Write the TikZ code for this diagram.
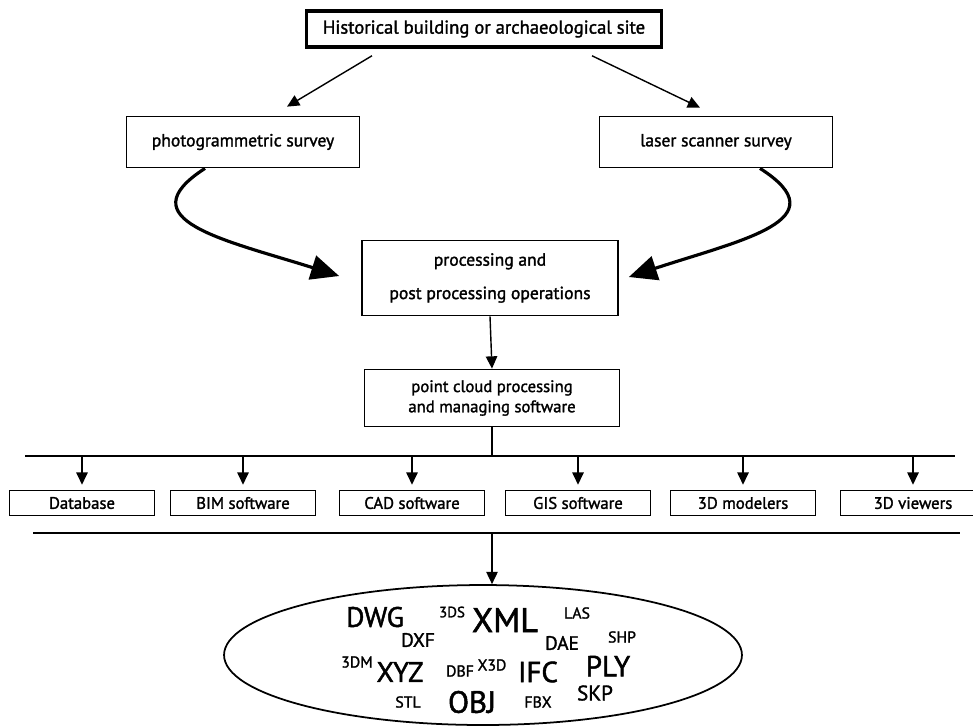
\documentclass[tikz,border=0pt]{standalone}
\usepackage{fontspec}
\setmainfont{PT Sans}[FakeBold=1.6]
\usepackage{tikz}
\usetikzlibrary{arrows.meta,shapes,positioning,calc}

\tikzset{
  box/.style={draw,line width=1pt,minimum width=4.66cm,minimum height=1.02cm,
    font=\fontsize{10}{12}\selectfont},
  toolbox/.style={draw,line width=0.6pt,minimum width=2.9cm,minimum height=0.5cm,
    inner sep=1pt,font=\fontsize{9.5}{11}\selectfont},
  arr/.style={line width=0.8pt,-{Triangle[length=7pt,width=6.5pt]}},
  bigarr/.style={line width=1.8pt,-{Triangle[length=16pt,width=14pt]}},
  bus/.style={line width=1pt},
  fmt/.style={inner sep=0pt,font=\fontsize{#1}{#1}\selectfont},
}

\begin{document}
\begin{tikzpicture}[x=0.02cm,y=-0.02cm]
\useasboundingbox (0,0) rectangle (973,725);
% survey and processing chain
\node[draw,line width=2pt,minimum width=7.1cm,minimum height=0.72cm,
  font=\fontsize{10.6}{12}\selectfont] (site) at (484,29) {Historical building or archaeological site};
\node[box] (photo) at (243,142) {photogrammetric survey};
\node[box] (laser) at (716,142) {laser scanner survey};
\node[box,minimum width=5.12cm,minimum height=1.5cm,align=center] (proc) at (490,278)
  {processing and\\[7pt]post processing operations};
\node[box,minimum width=5.1cm,minimum height=1.14cm,align=center,
  font=\fontsize{9.5}{11.5}\selectfont] (cloud) at (492,398)
  {point cloud processing\\and managing software};

\draw[arr] ($(site.south)+(-112,7)$) -- ($(photo.north)+(44,-9)$);
\draw[arr] ($(site.south)+(108,7)$) -- ($(laser.north)+(-16,-8)$);
\draw[bigarr] ($(photo.south)+(-38,0)$) .. controls (125,220) and (225,240) .. ($(proc.west)+(-22,-2)$);
\draw[bigarr] ($(laser.south)+(44,0)$) .. controls (841,220) and (741,240) .. ($(proc.east)+(10,-1)$);
\draw[arr] (proc.south) -- (cloud.north);

% software
\coordinate (bus1l) at (25,456);
\coordinate (bus1r) at (955,456);
\coordinate (bus2l) at (33,533);
\coordinate (bus2r) at (960,533);
\draw[bus] (bus1l) -- (bus1r);
\draw[bus] (bus2l) -- (bus2r);
\draw[bus] (cloud.south) -- (cloud.south |- bus1l);

\node[toolbox] (db) at (82,503) {Database};
\node[toolbox] (bim) at (243,503) {BIM software};
\node[toolbox] (cad) at (412,503) {CAD software};
\node[toolbox] (gis) at (578,503) {GIS software};
\node[toolbox] (mod) at (743,503) {3D modelers};
\node[toolbox] (view) at (913,503) {3D viewers};
\foreach \n in {db,bim,cad,gis,mod,view}
  \draw[arr,shorten >=3pt] (\n.north |- bus1l) -- (\n.north);

% exchange formats
\node[draw,ellipse,line width=1pt,minimum width=10.36cm,minimum height=2.8cm] (formats) at (483,655) {};
\draw[arr] (cloud.south |- bus2l) -- (cloud.south |- formats.north);

\node[fmt=16] (dwg) at (375,617) {DWG};
\node[fmt=8.5] (tds) at (452,612) {3DS};
\node[fmt=19.5] (xml) at (505,620) {XML};
\node[fmt=9] (las) at (577,613) {LAS};
\node[fmt=11] (dxf) at (418,640) {DXF};
\node[fmt=11] (dae) at (562,643) {DAE};
\node[fmt=9] (shp) at (622,637) {SHP};
\node[fmt=9] (tdm) at (357,662) {3DM};
\node[fmt=9] (xtd) at (492,665) {X3D};
\node[fmt=16.5] (ply) at (608,666) {PLY};
\node[fmt=16] (xyz) at (400,672) {XYZ};
\node[fmt=9] (dbf) at (460,671) {DBF};
\node[fmt=16.5] (ifc) at (538,672) {IFC};
\node[fmt=12] (skp) at (595,693) {SKP};
\node[fmt=9] (stl) at (408,702) {STL};
\node[fmt=17.5] (obj) at (472,702) {OBJ};
\node[fmt=9] (fbx) at (538,702) {FBX};
\end{tikzpicture}
\end{document}
